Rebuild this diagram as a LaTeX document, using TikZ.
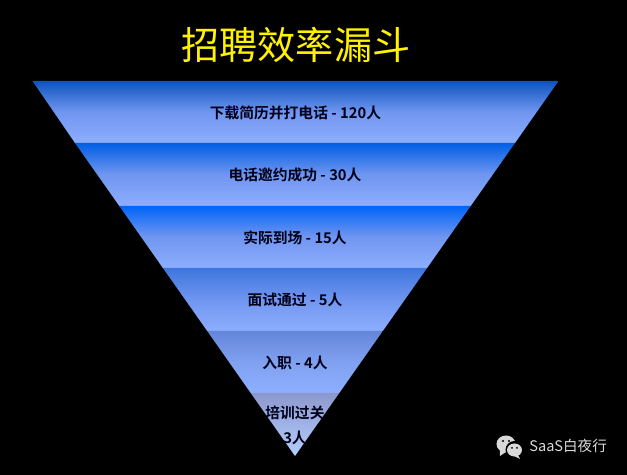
\documentclass[tikz,border=0pt]{standalone}
\usepackage{fontspec}
\setmainfont{Noto Sans CJK SC}[BoldFont={Noto Sans CJK SC Bold}]
\definecolor{bandlow}{RGB}{142,174,255}
\definecolor{bandmid}{RGB}{112,150,240}
\definecolor{bandA}{RGB}{14,84,190}
\definecolor{bandB}{RGB}{0,94,228}
\definecolor{bandC}{RGB}{0,100,248}
\definecolor{bandD}{RGB}{62,118,222}
\definecolor{bandE}{RGB}{100,134,218}
\definecolor{midE}{RGB}{128,160,240}
\definecolor{bandF}{RGB}{140,152,205}
\definecolor{lowF}{RGB}{180,205,255}
\tikzset{
  titlelabel/.style={text=yellow,font=\fontsize{21.7pt}{24pt}\selectfont},
  bandlabel/.style={text=black!90!blue,font=\fontsize{8.4pt}{14.2pt}\selectfont\bfseries,align=center},
  marklabel/.style={text=black!15,anchor=west,inner sep=0pt,font=\fontsize{8.3pt}{10pt}\selectfont},
  bandfill/.style={top color=#1,bottom color=bandlow,middle color=bandmid},
}
\begin{document}
\begin{tikzpicture}[x=0.02cm,y=-0.02cm]
  \fill[black] (0,0) rectangle (627,475);
  \shade[bandfill=bandA] (32.5,81) -- (558.5,81) -- (515,143) -- (75,143) -- cycle;
  \shade[bandfill=bandB] (75,143) -- (515,143) -- (470.7,206) -- (119.3,206) -- cycle;
  \shade[bandfill=bandC] (119.3,206) -- (470.7,206) -- (427.1,268) -- (162.9,268) -- cycle;
  \shade[bandfill=bandD] (162.9,268) -- (427.1,268) -- (382.8,331) -- (207.2,331) -- cycle;
  \shade[top color=bandE,bottom color=bandlow,middle color=midE] (207.2,331) -- (382.8,331) -- (339.3,393) -- (250.7,393) -- cycle;
  \shade[top color=bandF,bottom color=lowF] (250.7,393) -- (339.3,393) -- (295,456) -- cycle;
  \node[titlelabel] (title) at (296,45) {招聘效率漏斗};
  \node[bandlabel] (resume) at (295.5,112.5) {下载简历并打电话 - 120人};
  \node[bandlabel] (phone) at (295,174.5) {电话邀约成功 - 30人};
  \node[bandlabel] (visit) at (295,237.5) {实际到场 - 15人};
  \node[bandlabel] (exam) at (295,299.5) {面试通过 - 5人};
  \node[bandlabel] (hire) at (295,362.5) {入职 - 4人};
  \node[bandlabel] (train) at (295,425) {培训过关\\3人};
  % watermark
  \fill[black!15] (506,444) ellipse (9.5 and 8.5);
  \fill[black!15] (500,450) -- (500,456) -- (506,452) -- cycle;
  \fill[black] (514.5,450) circle (9);
  \fill[black!15] (514.5,450) ellipse (7.5 and 6.5);
  \fill[black!15] (518,455) -- (520,459) -- (514,456) -- cycle;
  \fill[black] (503,441) circle (1.2) (509,441) circle (1.2);
  \fill[black] (512,448) circle (1) (517,448) circle (1);
  \node[marklabel] (mark) at (529,446) {SaaS白夜行};
\end{tikzpicture}
\end{document}
